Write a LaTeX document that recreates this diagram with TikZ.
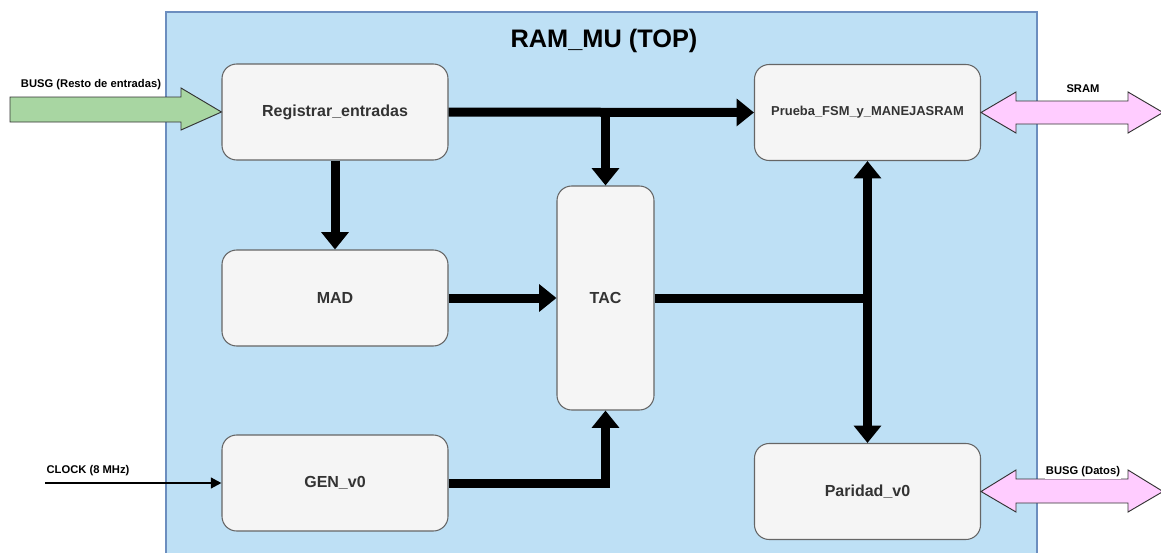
\documentclass[tikz,border=0pt]{standalone}
\usepackage{fontspec}
\setmainfont{Liberation Sans}
\usetikzlibrary{arrows.meta,calc}
\definecolor{contfill}{RGB}{190,224,245}
\definecolor{contdraw}{RGB}{108,142,191}
\definecolor{boxfill}{RGB}{245,245,245}
\definecolor{boxdraw}{RGB}{102,102,102}
\definecolor{boxtext}{RGB}{51,51,51}
\definecolor{greenfill}{RGB}{168,214,162}
\definecolor{pinkfill}{RGB}{255,204,255}
\begin{document}
\begin{tikzpicture}[x=0.75pt,y=-0.75pt,
  blk/.style={draw=boxdraw,fill=boxfill,rounded corners=11pt,line width=0.8pt,
    text=boxtext,font=\bfseries\fontsize{12}{14}\selectfont,
    minimum width=169.5pt,minimum height=72pt,inner sep=0pt},
  big/.style={line width=6.75pt,draw=black},
  bigtip/.style={-{Triangle[length=13pt,width=20pt]}},
  lbl/.style={font=\bfseries\fontsize{8.4}{10}\selectfont,inner sep=1pt},
  blockarrow/.style={draw=black!80,line width=0.7pt,line join=miter}]
\useasboundingbox (0,0) rectangle (1161,553);
\begin{scope}
\clip (0,0) rectangle (1161,553);
\draw[fill=contfill,draw=contdraw,line width=0.8pt] (166,12) rectangle (1037,580);
\end{scope}
\node[font=\bfseries\fontsize{19}{22}\selectfont] (title) at (604,41) {RAM\_MU (TOP)};

\node[blk] (reg) at (335,112) {Registrar\_entradas};
\node[blk] (mad) at (335,298) {MAD};
\node[blk] (gen) at (335,483) {GEN\_v0};
\node[blk,minimum width=72.75pt,minimum height=168pt] (tac) at (605.5,298) {TAC};
\node[blk,font=\bfseries\fontsize{9.7}{11}\selectfont] (pru) at (867.5,112.5) {Prueba\_FSM\_y\_MANEJASRAM};
\node[blk] (par) at (867.5,491.5) {Paridad\_v0};

% thick connectors
\draw[big,bigtip] (reg.east) -- (pru.west);
\coordinate (j1) at (reg.east -| tac.north);
\draw[big,bigtip] (j1) -- (tac.north);
\draw[big,bigtip] (reg.south) -- (mad.north);
\draw[big,bigtip] (mad.east) -- (tac.west);
\draw[big,bigtip] (gen.east) -| (tac.south);
\coordinate (j2) at (tac.east -| pru.south);
\draw[big] (tac.east) -- (j2);
\draw[big,{Triangle[length=13pt,width=20pt]}-{Triangle[length=13pt,width=20pt]}] (pru.south) -- (par.north);

% input: BUSG (Resto de entradas)
\draw[blockarrow,fill=greenfill] (10,97) -- (181,97) -- (181,88) -- (reg.west) -- (181,130) -- (181,122) -- (10,122) -- cycle;
\node[lbl] (lb1) at (91,85) {BUSG (Resto de entradas)};

% CLOCK
\coordinate (clk) at (45,483);
\draw[line width=1.7pt,-{Triangle[length=8pt,width=8pt]}] (clk) -- (gen.west);
\node[lbl] (lb2) at (88,471) {CLOCK (8 MHz)};

% SRAM / BUSG (Datos)
\begin{scope}
\clip (0,0) rectangle (1161,553);
\draw[blockarrow,fill=pinkfill] (pru.east) -- (1016,92) -- (1016,101) -- (1128,101) -- (1128,92) -- (1163,112.5) -- (1128,133) -- (1128,124) -- (1016,124) -- (1016,133) -- cycle;
\draw[blockarrow,fill=pinkfill] (par.east) -- (1016,470) -- (1016,479) -- (1128,479) -- (1128,470) -- (1163,491.5) -- (1128,512) -- (1128,503) -- (1016,503) -- (1016,512) -- cycle;
\end{scope}
\node[lbl] (lb3) at (1083,89) {SRAM};
\node[lbl,fill=white] (lb4) at (1083,472) {BUSG (Datos)};
\end{tikzpicture}
\end{document}
